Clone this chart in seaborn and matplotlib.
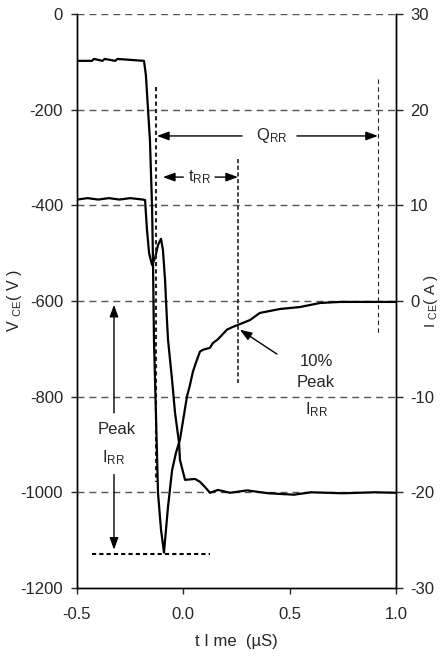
import numpy as np
import pandas as pd
import seaborn as sns
from matplotlib import pyplot as plt

# collector current, amps (right axis)
I_T = [-0.5, -0.43, -0.42, -0.38, -0.37, -0.32, -0.31, -0.185, -0.176, -0.166, -0.157,
       -0.147, -0.143, -0.138, -0.133, -0.119, -0.105, -0.091, -0.072, -0.053,
       -0.035, -0.016, 0.017, 0.031, 0.045, 0.060, 0.078, 0.092, 0.125, 0.139,
       0.163, 0.205, 0.234, 0.257, 0.313, 0.360, 0.454, 0.549, 0.643, 0.737, 1.0]
I_A = [25.1, 25.1, 25.3, 25.1, 25.3, 25.1, 25.3, 25.1, 23.6, 20.0, 16.8,
       9.8, 4.6, -4.1, -8.3, -20.1, -23.9, -26.3, -21.5, -17.7,
       -15.9, -14.5, -10.0, -8.8, -7.4, -6.4, -5.3, -5.1, -4.9, -4.4,
       -4.0, -3.0, -2.7, -2.5, -2.0, -1.25, -0.84, -0.63, -0.21, -0.1, -0.1]

# collector-emitter voltage, volts (left axis)
V_T = [-0.5, -0.45, -0.40, -0.35, -0.30, -0.25, -0.19, -0.180, -0.171, -0.161,
       -0.147, -0.133, -0.119, -0.105, -0.096, -0.086, -0.077, -0.072, -0.053,
       -0.039, -0.020, -0.016, 0.008, 0.055, 0.078, 0.102, 0.125, 0.163, 0.219,
       0.30, 0.40, 0.52, 0.60, 0.75, 0.90, 1.0]
V_V = [-388, -385, -388, -385, -388, -385, -388, -389, -451, -500,
       -525, -510, -483, -470, -493, -556, -640, -681, -765,
       -834, -897, -932, -974, -972, -978, -989, -1001, -995, -1001,
       -996, -1002, -1005, -1000, -1002, -1000, -1001]

V_TICKS = [0, -200, -400, -600, -800, -1000, -1200]
I_TICKS = [30, 20, 10, 0, -10, -20, -30]
T_TICKS = [-0.5, 0.0, 0.5, 1.0]

sns.set_style('ticks')
plt.rcParams['font.family'] = ['Liberation Sans', 'DejaVu Sans']
plt.rcParams['mathtext.fontset'] = 'custom'
plt.rcParams['mathtext.rm'] = 'Liberation Sans'
plt.rcParams['mathtext.it'] = 'Liberation Sans'
plt.rcParams['axes.unicode_minus'] = False
plt.rcParams['font.size'] = 12

fig = plt.figure(figsize=(4.4, 6.56), dpi=100)
ax = fig.add_axes([0.175, 0.1037, 0.725, 0.875])
ax2 = ax.twinx()

df_v = pd.DataFrame({'t': V_T, 'v': V_V})
df_i = pd.DataFrame({'t': I_T, 'i': I_A})
sns.lineplot(data=df_v, x='t', y='v', ax=ax, color='black', lw=1.6, sort=False)
sns.lineplot(data=df_i, x='t', y='i', ax=ax2, color='black', lw=1.6, sort=False)

ax.set_xlim(-0.5, 1.0)
ax.set_ylim(-1200, 0)
ax2.set_ylim(-30, 30)
ax.set_xticks(T_TICKS)
ax.set_xticklabels(['%.1f' % t for t in T_TICKS])
ax.set_yticks(V_TICKS)
ax2.set_yticks(I_TICKS)

for y in V_TICKS[:-1]:
    ax.axhline(y, color='#555555', lw=1.0, ls=(0, (5, 3.6)), zorder=0)

for a in (ax, ax2):
    a.spines['top'].set_visible(False)
    for s in a.spines.values():
        s.set_linewidth(1.0)
        s.set_color('black')
ax.tick_params(axis='y', direction='out', length=4, width=1, pad=6, labelsize=12)
ax.tick_params(axis='x', direction='out', length=4, width=1, pad=10, labelsize=12)
ax2.tick_params(axis='y', direction='out', length=5, width=1, pad=5, labelsize=12)

ax.set_xlabel('t I me  (µS)', fontsize=12, labelpad=8)
ax.set_ylabel(r'V $_{\mathregular{CE}}$( V )', fontsize=11.5)
ax.yaxis.set_label_coords(-0.165, 0.5)
ax2.set_ylabel(r'I $_{\mathregular{CE}}$( A )', fontsize=11)
ax2.yaxis.set_label_coords(1.082, 0.5)

# marker lines
ax.plot([-0.129, -0.129], [-152, -978], color='#222222', lw=1.5, ls=(0, (2, 1.5)))
ax.plot([0.257, 0.257], [-303, -771], color='#222222', lw=1.2, ls=(0, (2.5, 1.5)))
ax.plot([0.915, 0.915], [-136, -671], color='#222222', lw=0.8, ls=(0, (4, 3)))
ax.plot([-0.43, 0.125], [-1128, -1128], color='black', lw=1.5, ls=(0, (2, 1.5)))

arrow = dict(arrowstyle='-|>,head_length=0.6,head_width=0.22', color='black', lw=1.0,
             shrinkA=0, shrinkB=0, mutation_scale=12)

# Q_RR
ax.annotate('', xy=(-0.124, -255), xytext=(0.276, -255), arrowprops=arrow)
ax.annotate('', xy=(0.915, -255), xytext=(0.534, -255), arrowprops=arrow)
ax.text(0.417, -255, r'Q$_{\mathregular{RR}}$', ha='center', va='center', fontsize=12)

# t_RR
ax.annotate('', xy=(-0.096, -341), xytext=(0.0, -341), arrowprops=arrow)
ax.annotate('', xy=(0.257, -341), xytext=(0.149, -341), arrowprops=arrow)
ax.text(0.078, -341, r't$_{\mathregular{RR}}$', ha='center', va='center', fontsize=12)

# Peak I_RR
ax.annotate('', xy=(-0.326, -608), xytext=(-0.326, -834), arrowprops=arrow)
ax.annotate('', xy=(-0.326, -1120), xytext=(-0.326, -963), arrowprops=arrow)
ax.text(-0.315, -869, 'Peak', ha='center', va='center', fontsize=12)
ax.text(-0.326, -928, r'I$_{\mathregular{RR}}$', ha='center', va='center', fontsize=12)

# 10% Peak I_RR
ax.annotate('', xy=(0.266, -660), xytext=(0.440, -711), arrowprops=arrow)
ax.text(0.624, -727, '10%', ha='center', va='center', fontsize=12)
ax.text(0.624, -771, 'Peak', ha='center', va='center', fontsize=12)
ax.text(0.624, -828, r'I$_{\mathregular{RR}}$', ha='center', va='center', fontsize=12)

fig.savefig('out.png', dpi=100)
